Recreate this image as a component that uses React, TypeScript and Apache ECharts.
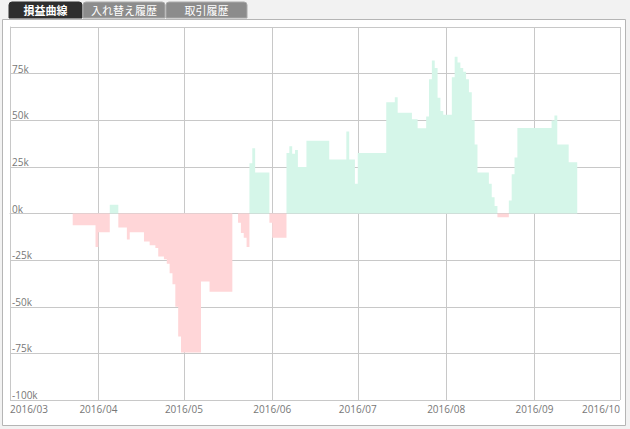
import React, { useEffect, useRef } from "react";
import * as echarts from "echarts";

const tabLabels = ["損益曲線", "入れ替え履歴", "取引履歴"];

const dates = [
  "2016-03-23", "2016-03-31", "2016-04-01", "2016-04-05", "2016-04-08", "2016-04-11",
  "2016-04-12", "2016-04-17", "2016-04-19", "2016-04-21", "2016-04-22", "2016-04-24",
  "2016-04-25", "2016-04-26", "2016-04-27", "2016-04-28", "2016-04-29", "2016-04-30",
  "2016-05-07", "2016-05-10", "2016-05-18", "2016-05-20", "2016-05-21", "2016-05-22",
  "2016-05-23", "2016-05-24", "2016-05-25", "2016-05-26", "2016-05-31", "2016-06-01",
  "2016-06-06", "2016-06-07", "2016-06-08", "2016-06-09", "2016-06-10", "2016-06-13",
  "2016-06-21", "2016-06-27", "2016-06-28", "2016-06-30", "2016-07-01", "2016-07-11",
  "2016-07-14", "2016-07-15", "2016-07-20", "2016-07-22", "2016-07-25", "2016-07-26",
  "2016-07-27", "2016-07-28", "2016-07-29", "2016-07-30", "2016-07-31", "2016-08-03",
  "2016-08-04", "2016-08-05", "2016-08-06", "2016-08-07", "2016-08-08", "2016-08-09",
  "2016-08-10", "2016-08-11", "2016-08-12", "2016-08-16", "2016-08-17", "2016-08-18",
  "2016-08-19", "2016-08-23", "2016-08-24", "2016-08-25", "2016-08-26", "2016-09-07",
  "2016-09-08", "2016-09-09", "2016-09-13", "2016-09-16",
];

const pnl = [
  -6300, -18000, -10000, 4700, -7500, -14000,
  -10000, -15000, -17000, -18500, -23000, -24500,
  -27000, -32000, -38000, -50000, -66000, -74500,
  -36500, -42000, 0, -5000, -10500, -13000,
  -18000, 27000, 35000, 22000, -5000, -13000,
  32500, 36000, 32000, 34000, 25000, 39000,
  29000, 44000, 29000, 16000, 32500, 59600,
  62300, 54000, 50500, 45700, 52000, 72000,
  82000, 78000, 62000, 55000, 53000, 73000,
  84000, 81000, 78000, 76000, 72000, 65000,
  50000, 37000, 22000, 16000, 8700, 4000,
  -2000, 7000, 21000, 30000, 45900, 49800,
  52500, 37000, 27500, 0,
];

const xMin = "2016-03-01";
const xMax = "2016-10-01";
const yMin = -100000;
const yMax = 100000;
const yStep = 25000;

export default function App() {
  const ref = useRef<HTMLDivElement>(null);
  useEffect(() => {
    document.body.style.margin = "0";
    const chart = echarts.init(ref.current as HTMLDivElement, null, { renderer: "svg" });
    const pos = dates.map((d, i) => [d, Math.max(pnl[i], 0)]);
    const neg = dates.map((d, i) => [d, Math.min(pnl[i], 0)]);

    const tabX = [9, 83, 166];
    const tabW = [73, 82, 81];
    const tabs = tabLabels.map((t, i) => ({
      type: "group",
      children: [
        {
          type: "rect",
          shape: { x: tabX[i], y: 2, width: tabW[i], height: 16, r: [3, 3, 0, 0] },
          style: { fill: i === 0 ? "#2e2e2e" : "#8c8c8c", stroke: i === 0 ? "#2e2e2e" : "#aaaaaa", lineWidth: 1 },
        },
        {
          type: "text",
          x: tabX[i] + tabW[i] / 2,
          y: 10,
          style: {
            text: t,
            fill: "#ffffff",
            font: (i === 0 ? "bold " : "") + "11px 'Noto Sans CJK JP', sans-serif",
            align: "center",
            verticalAlign: "middle",
          },
        },
      ],
    }));

    chart.setOption({
      animation: false,
      backgroundColor: "#f2f2f2",
      graphic: [
        {
          type: "rect",
          z: -1,
          shape: { x: 2.5, y: 19.5, width: 623, height: 406 },
          style: { fill: "#ffffff", stroke: "#b5b5b5", lineWidth: 1 },
        },
        ...tabs,
      ],
      grid: { left: 10, right: 10, top: 27, bottom: 29, containLabel: false, outerBoundsMode: "none" },
      xAxis: {
        type: "time",
        min: xMin,
        max: xMax,
        minInterval: 28 * 86400000,
        maxInterval: 31 * 86400000,
        axisLine: { show: true, lineStyle: { color: "#c8c8c8" } },
        axisTick: { show: false },
        splitLine: { show: true, lineStyle: { color: "#c8c8c8", width: 1 } },
        axisLabel: {
          formatter: "{yyyy}/{MM}",
          color: "#777777",
          fontSize: 10,
          fontFamily: "'Open Sans', sans-serif",
          margin: 4,
          alignMinLabel: "left",
          alignMaxLabel: "right",
          showMinLabel: true,
          showMaxLabel: true,
        },
      },
      yAxis: {
        type: "value",
        min: yMin,
        max: yMax,
        interval: yStep,
        axisLine: { show: true, lineStyle: { color: "#c8c8c8" } },
        axisTick: { show: false },
        splitLine: { show: true, lineStyle: { color: "#c8c8c8", width: 1 } },
        axisLabel: {
          inside: true,
          margin: 2,
          verticalAlign: "bottom",
          color: "#777777",
          fontSize: 10,
          fontFamily: "'Open Sans', sans-serif",
          showMaxLabel: false,
          formatter: (v: number) => v / 1000 + "k",
        },
      },
      series: [
        {
          type: "line",
          step: "end",
          data: pos,
          symbol: "none",
          lineStyle: { width: 0 },
          areaStyle: { color: "#d5f6e9", opacity: 1 },
          z: 1,
        },
        {
          type: "line",
          step: "end",
          data: neg,
          symbol: "none",
          lineStyle: { width: 0 },
          areaStyle: { color: "#ffd6d8", opacity: 1 },
          z: 1,
        },
      ],
    });
    return () => chart.dispose();
  }, []);
  return <div ref={ref} style={{ width: 630, height: 429 }} />;
}
